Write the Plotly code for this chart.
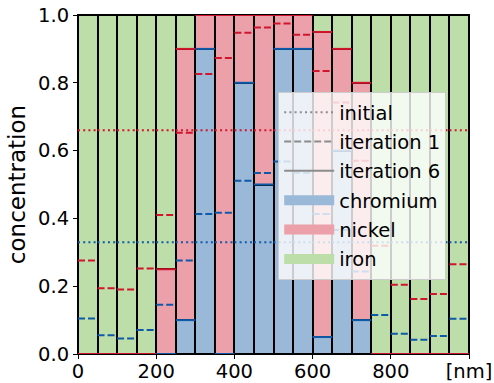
import numpy as np
import plotly.graph_objects as go

# ---- data ----
bin_width = 50  # nm
n_bins = 20
chromium_final = [0, 0, 0, 0, 0, 0.1, 0.9, 0, 0.8, 0.5, 0.9, 0.9, 0.05, 0.6, 0.1, 0, 0, 0, 0, 0]
nickel_final = [0, 0, 0, 0, 0.25, 0.8, 0.1, 1.0, 0.2, 0.5, 0.1, 0.1, 0.9, 0.3, 0.7, 0, 0, 0, 0, 0]
iron_final = [1, 1, 1, 1, 0.75, 0.1, 0, 0, 0, 0, 0, 0, 0.05, 0.1, 0.2, 1, 1, 1, 1, 1]

chromium_iter1 = [0.105, 0.055, 0.046, 0.071, 0.145, 0.276, 0.413, 0.417, 0.511, 0.534,
                  0.568, 0.535, 0.413, 0.366, 0.243, 0.115, 0.060, 0.042, 0.053, 0.104]
nickel_iter1 = [0.171, 0.139, 0.144, 0.181, 0.265, 0.377, 0.413, 0.456, 0.437, 0.429,
                0.407, 0.407, 0.422, 0.376, 0.327, 0.204, 0.144, 0.120, 0.124, 0.161]

chromium_initial = [0.33] * n_bins
nickel_initial = [0.33] * n_bins

x_tick_vals = [0, 200, 400, 600, 800, 1000]
x_tick_text = ["0", "200", "400", "600", "800", "[nm]"]
y_tick_vals = [0.0, 0.2, 0.4, 0.6, 0.8, 1.0]

# ---- styles ----
CR_FILL = "#9ab9d8"
NI_FILL = "#eca0aa"
FE_FILL = "#bddea9"
BLUE = "#0f5aa8"
RED = "#d1152c"
FONT = "DejaVu Sans"
FS = 19.5

edges = np.arange(n_bins + 1) * bin_width
centers = (edges[:-1] + edges[1:]) / 2


def segments(values):
    xs, ys = [], []
    for i, v in enumerate(values):
        xs += [edges[i], edges[i + 1], None]
        ys += [v, v, None]
    return xs, ys


fig = go.Figure()

for name, vals, col in [("chromium", chromium_final, CR_FILL),
                        ("nickel", nickel_final, NI_FILL),
                        ("iron", iron_final, FE_FILL)]:
    fig.add_trace(go.Bar(x=centers, y=vals, width=bin_width,
                         marker=dict(color=col, line=dict(color="black", width=2)),
                         showlegend=False, name=name))


def add_lines(cr, ni, dash, width):
    cum = [a + b for a, b in zip(cr, ni)]
    for vals, col in [(cr, BLUE), (cum, RED)]:
        xs, ys = segments(vals)
        fig.add_trace(go.Scatter(x=xs, y=ys, mode="lines", line=dict(color=col, dash=dash, width=width),
                                 showlegend=False, hoverinfo="skip"))


add_lines(chromium_initial, nickel_initial, "2px,3.2px", 2)
add_lines(chromium_iter1, nickel_iter1, "7px,3px", 2)
add_lines(chromium_final, nickel_final, "solid", 2)

# legend entries
for name, dash in [("initial", "2px,3.2px"), ("iteration 1", "7px,3px"), ("iteration 6", "solid")]:
    fig.add_trace(go.Scatter(x=[None], y=[None], mode="lines", name=name, legendgroup=name,
                             line=dict(color="#8c8c8c", dash=dash, width=2)))
for name, col in [("chromium", CR_FILL), ("nickel", NI_FILL), ("iron", FE_FILL)]:
    fig.add_trace(go.Scatter(x=[None], y=[None], mode="lines", name=name, legendgroup=name,
                             line=dict(width=10, color=col)))

fig.update_layout(
    width=494, height=383,
    margin=dict(l=78, r=25, t=15, b=29),
    barmode="stack", bargap=0,
    plot_bgcolor="white", paper_bgcolor="white",
    font=dict(family=FONT, size=FS, color="black"),
    legend=dict(x=0.512, y=0.773, xanchor="left", yanchor="top",
                bgcolor="rgba(255,255,255,0.8)", bordercolor="#cccccc", borderwidth=1,
                traceorder="grouped", tracegroupgap=1, itemwidth=50,
                font=dict(family=FONT, size=FS)),
    xaxis=dict(range=[0, 1000], tickvals=x_tick_vals, ticktext=x_tick_text, ticks="outside",
               ticklen=4, tickcolor="black", showgrid=False, zeroline=False,
               showline=True, linecolor="black", linewidth=1, mirror=True, automargin=False,
               ticklabelstandoff=-4),
    yaxis=dict(range=[0, 1], tickvals=y_tick_vals, tickformat=".1f", ticks="outside",
               ticklen=4, tickcolor="black", showgrid=False, zeroline=False,
               showline=True, linecolor="black", linewidth=1, mirror=True, automargin=False,
               title=dict(text="concentration", standoff=6)),
)

fig.write_html("out.html", config={"displayModeBar": False},
               post_script="document.body.style.margin='0';")
